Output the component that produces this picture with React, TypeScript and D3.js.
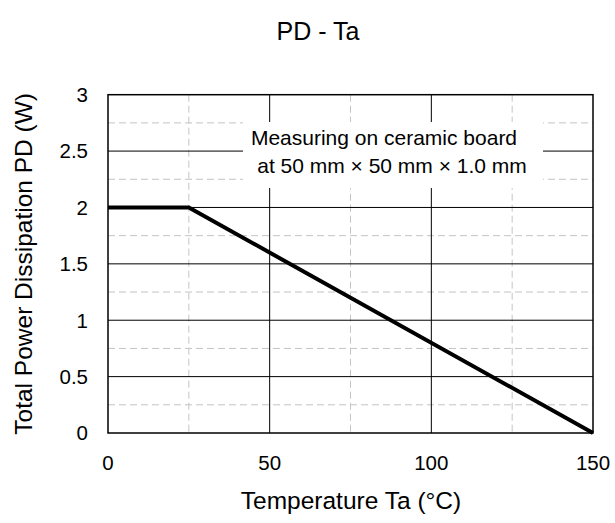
import { line, range, scaleLinear } from 'd3'

// PD - Ta derating curve
const temps = [0, 25, 150]
const power = [2, 2, 0]

const xTicks = [0, 50, 100, 150]
const xMinor = [25, 75, 125]
const yTicks = [0, 0.5, 1, 1.5, 2, 2.5, 3]
const yMinor = [0.25, 0.75, 1.25, 1.75, 2.25, 2.75]

const title = 'PD - Ta'
const xTitle = 'Temperature Ta (°C)'
const yTitle = 'Total Power Dissipation PD (W)'
const note = ['Measuring on ceramic board', 'at 50 mm × 50 mm × 1.0 mm']

const width = 615
const height = 523
const margin = { top: 94.7, right: 22, bottom: 90, left: 108 }
const font = '"Liberation Sans", Arial, sans-serif'

export default function App() {
  const innerW = width - margin.left - margin.right
  const innerH = height - margin.top - margin.bottom

  const x = scaleLinear().domain([0, 150]).range([margin.left, margin.left + innerW])
  const y = scaleLinear().domain([0, 3]).range([margin.top + innerH, margin.top])

  const pts = range(temps.length).map((i) => [temps[i], power[i]] as [number, number])
  const path = line<[number, number]>()
    .x((d) => x(d[0]))
    .y((d) => y(d[1]))(pts)

  const x0 = x(0)
  const x1 = x(150)
  const y0 = y(0)
  const y1 = y(3)

  return (
    <svg width={width} height={height} style={{ position: 'absolute', left: 0, top: 0 }} fontFamily={font}>
      <rect width={width} height={height} fill="#fff" />
      <text x={318} y={40} textAnchor="middle" fontSize={25} fill="#000">
        {title}
      </text>

      {/* minor grid */}
      {xMinor.map((t) => (
        <line key={'xm' + t} x1={x(t)} x2={x(t)} y1={y1} y2={y0} stroke="#c4c4c4" strokeDasharray="7 4" />
      ))}
      {yMinor.map((t) => (
        <line key={'ym' + t} x1={x0} x2={x1} y1={y(t)} y2={y(t)} stroke="#c4c4c4" strokeDasharray="7 4" />
      ))}
      {/* major grid */}
      {xTicks.slice(1, -1).map((t) => (
        <line key={'xg' + t} x1={x(t)} x2={x(t)} y1={y1} y2={y0} stroke="#000" strokeWidth={1} />
      ))}
      {yTicks.slice(1, -1).map((t) => (
        <line key={'yg' + t} x1={x0} x2={x1} y1={y(t)} y2={y(t)} stroke="#000" strokeWidth={1} />
      ))}

      {/* annotation box */}
      <rect x={243} y={122} width={300} height={66} fill="#fff" />
      <text x={384} y={145} textAnchor="middle" fontSize={21} fill="#000">
        {note[0]}
      </text>
      <text x={392} y={173} textAnchor="middle" fontSize={21} fill="#000">
        {note[1]}
      </text>

      <path d={path ?? ''} fill="none" stroke="#000" strokeWidth={4} />
      <rect x={x0} y={y1} width={x1 - x0} height={y0 - y1} fill="none" stroke="#000" strokeWidth={1.5} />

      {xTicks.map((t) => (
        <text key={'xt' + t} x={x(t)} y={470} textAnchor="middle" fontSize={20.5} fill="#000">
          {t}
        </text>
      ))}
      {yTicks.map((t) => (
        <text key={'yt' + t} x={88} y={y(t)} dy="0.36em" textAnchor="end" fontSize={20.5} fill="#000">
          {t}
        </text>
      ))}

      <text x={351} y={509} textAnchor="middle" fontSize={24.5} fill="#000">
        {xTitle}
      </text>
      <text transform={`translate(32,${(y0 + y1) / 2}) rotate(-90)`} textAnchor="middle" fontSize={24.5} fill="#000">
        {yTitle}
      </text>
    </svg>
  )
}
